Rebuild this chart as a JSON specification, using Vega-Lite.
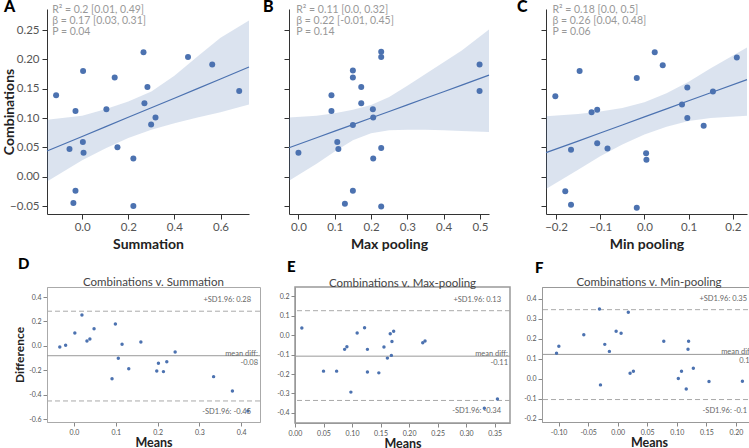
{
"$schema": "https://vega.github.io/schema/vega-lite/v6.json",
"padding": {"left": 2, "top": -2, "right": 0, "bottom": 0},
"config": {
  "font": "Lato",
  "view": {"stroke": null},
  "axis": {"labelFont": "Lato", "titleFont": "Lato", "grid": false, "minExtent": 0, "labelFlush": false, "labelOverlap": false, "domainColor": "#333", "tickColor": "#333", "labelColor": "#555", "labelFontSize": 11.5, "tickSize": 5, "labelPadding": 3, "titleFontSize": 14, "titleFontWeight": "bold", "titleColor": "#222"},
  "axisY": {"minExtent": 0, "labelOverlap": false},
  "axisX": {"minExtent": 0, "labelOverlap": false}
},
"datasets": {
  "pts": [
    {"panel":"A","x":-0.113,"y":0.139},{"panel":"A","x":0.004,"y":0.180},{"panel":"A","x":-0.029,"y":0.112},{"panel":"A","x":0.003,"y":0.059},{"panel":"A","x":-0.055,"y":0.047},{"panel":"A","x":0.006,"y":0.041},{"panel":"A","x":-0.029,"y":-0.024},{"panel":"A","x":-0.038,"y":-0.045},{"panel":"A","x":0.105,"y":0.115},{"panel":"A","x":0.141,"y":0.169},{"panel":"A","x":0.153,"y":0.050},{"panel":"A","x":0.222,"y":0.031},{"panel":"A","x":0.222,"y":-0.050},{"panel":"A","x":0.266,"y":0.212},{"panel":"A","x":0.283,"y":0.153},{"panel":"A","x":0.270,"y":0.125},{"panel":"A","x":0.318,"y":0.101},{"panel":"A","x":0.299,"y":0.089},{"panel":"A","x":0.459,"y":0.204},{"panel":"A","x":0.564,"y":0.191},{"panel":"A","x":0.681,"y":0.146},
    {"panel":"B","x":0.000,"y":0.041},{"panel":"B","x":0.091,"y":0.139},{"panel":"B","x":0.091,"y":0.112},{"panel":"B","x":0.107,"y":0.059},{"panel":"B","x":0.110,"y":0.047},{"panel":"B","x":0.150,"y":0.181},{"panel":"B","x":0.150,"y":0.169},{"panel":"B","x":0.150,"y":0.088},{"panel":"B","x":0.150,"y":-0.024},{"panel":"B","x":0.128,"y":-0.046},{"panel":"B","x":0.173,"y":0.153},{"panel":"B","x":0.173,"y":0.125},{"panel":"B","x":0.205,"y":0.115},{"panel":"B","x":0.206,"y":0.101},{"panel":"B","x":0.206,"y":0.031},{"panel":"B","x":0.228,"y":0.213},{"panel":"B","x":0.228,"y":0.204},{"panel":"B","x":0.228,"y":0.049},{"panel":"B","x":0.228,"y":-0.051},{"panel":"B","x":0.499,"y":0.191},{"panel":"B","x":0.499,"y":0.146},
    {"panel":"C","x":-0.2015,"y":0.137},{"panel":"C","x":-0.1466,"y":0.180},{"panel":"C","x":-0.1195,"y":0.110},{"panel":"C","x":-0.1068,"y":0.114},{"panel":"C","x":-0.166,"y":0.046},{"panel":"C","x":-0.1068,"y":0.057},{"panel":"C","x":-0.0835,"y":0.048},{"panel":"C","x":-0.179,"y":-0.025},{"panel":"C","x":-0.166,"y":-0.048},{"panel":"C","x":-0.0173,"y":-0.053},{"panel":"C","x":-0.0173,"y":0.168},{"panel":"C","x":0.0233,"y":0.212},{"panel":"C","x":0.0414,"y":0.190},{"panel":"C","x":0.0038,"y":0.040},{"panel":"C","x":0.0045,"y":0.029},{"panel":"C","x":0.085,"y":0.123},{"panel":"C","x":0.097,"y":0.152},{"panel":"C","x":0.097,"y":0.100},{"panel":"C","x":0.134,"y":0.087},{"panel":"C","x":0.155,"y":0.145},{"panel":"C","x":0.209,"y":0.203}
  ],
  "bands": [
    {"panel":"A","x":-0.1525,"lo":-0.008,"fit":0.0437,"hi":0.097},{"panel":"A","x":0.0,"lo":0.028,"fit":0.0686,"hi":0.104},{"panel":"A","x":0.1,"lo":0.048,"fit":0.0849,"hi":0.115},{"panel":"A","x":0.2,"lo":0.066,"fit":0.1012,"hi":0.128},{"panel":"A","x":0.3,"lo":0.080,"fit":0.1175,"hi":0.145},{"panel":"A","x":0.4,"lo":0.091,"fit":0.1338,"hi":0.172},{"panel":"A","x":0.5,"lo":0.101,"fit":0.1501,"hi":0.205},{"panel":"A","x":0.6,"lo":0.110,"fit":0.1664,"hi":0.237},{"panel":"A","x":0.7235,"lo":0.123,"fit":0.187,"hi":0.266},
    {"panel":"B","x":-0.026,"lo":-0.007,"fit":0.0494,"hi":0.101},{"panel":"B","x":0.05,"lo":0.022,"fit":0.0664,"hi":0.104},{"panel":"B","x":0.1,"lo":0.043,"fit":0.0776,"hi":0.108},{"panel":"B","x":0.15,"lo":0.062,"fit":0.0888,"hi":0.114},{"panel":"B","x":0.2,"lo":0.074,"fit":0.100,"hi":0.122},{"panel":"B","x":0.25,"lo":0.079,"fit":0.1112,"hi":0.136},{"panel":"B","x":0.3,"lo":0.080,"fit":0.1224,"hi":0.155},{"panel":"B","x":0.35,"lo":0.080,"fit":0.1336,"hi":0.175},{"panel":"B","x":0.4,"lo":0.079,"fit":0.1448,"hi":0.195},{"panel":"B","x":0.45,"lo":0.078,"fit":0.156,"hi":0.215},{"panel":"B","x":0.525,"lo":0.076,"fit":0.173,"hi":0.251},
    {"panel":"C","x":-0.2226,"lo":-0.021,"fit":0.0409,"hi":0.103},{"panel":"C","x":-0.15,"lo":0.012,"fit":0.0606,"hi":0.107},{"panel":"C","x":-0.1,"lo":0.035,"fit":0.0744,"hi":0.111},{"panel":"C","x":-0.05,"lo":0.055,"fit":0.0881,"hi":0.117},{"panel":"C","x":0.0,"lo":0.072,"fit":0.1019,"hi":0.127},{"panel":"C","x":0.05,"lo":0.085,"fit":0.1156,"hi":0.142},{"panel":"C","x":0.1,"lo":0.095,"fit":0.1294,"hi":0.162},{"panel":"C","x":0.15,"lo":0.100,"fit":0.1431,"hi":0.185},{"panel":"C","x":0.232,"lo":0.104,"fit":0.1654,"hi":0.220}
  ],
  "stats": [
    {"panel":"A","letter":"A","text":"R² = 0.2 [0.01, 0.49]\nβ = 0.17 [0.03, 0.31]\nP = 0.04"},
    {"panel":"B","letter":"B","text":"R² = 0.11 [0.0, 0.32]\nβ = 0.22 [-0.01, 0.45]\nP = 0.14"},
    {"panel":"C","letter":"C","text":"R² = 0.18 [0.0, 0.5]\nβ = 0.26 [0.04, 0.48]\nP = 0.06"}
  ],
  "heads": [
    {"panel":"D","letter":"D","title":"Combinations v. Summation"},
    {"panel":"E","letter":"E","title":"Combinations v. Max-pooling"},
    {"panel":"F","letter":"F","title":"Combinations v. Min-pooling"}
  ],
  "ba": [
    {"panel":"D","mean":-0.034,"diff":-0.009},{"panel":"D","mean":-0.020,"diff":0.005},{"panel":"D","mean":0.002,"diff":0.106},{"panel":"D","mean":0.019,"diff":0.253},{"panel":"D","mean":0.031,"diff":0.040},{"panel":"D","mean":0.038,"diff":0.057},{"panel":"D","mean":0.048,"diff":0.141},{"panel":"D","mean":0.091,"diff":-0.268},{"panel":"D","mean":0.099,"diff":0.179},{"panel":"D","mean":0.106,"diff":-0.101},{"panel":"D","mean":0.115,"diff":0.013},{"panel":"D","mean":0.131,"diff":-0.186},{"panel":"D","mean":0.160,"diff":0.032},{"panel":"D","mean":0.198,"diff":-0.205},{"panel":"D","mean":0.202,"diff":-0.142},{"panel":"D","mean":0.214,"diff":-0.210},{"panel":"D","mean":0.222,"diff":-0.129},{"panel":"D","mean":0.242,"diff":-0.050},{"panel":"D","mean":0.334,"diff":-0.251},{"panel":"D","mean":0.379,"diff":-0.368},{"panel":"D","mean":0.416,"diff":-0.532},
    {"panel":"E","mean":0.012,"diff":0.037},{"panel":"E","mean":0.050,"diff":-0.185},{"panel":"E","mean":0.073,"diff":-0.185},{"panel":"E","mean":0.087,"diff":-0.073},{"panel":"E","mean":0.091,"diff":-0.060},{"panel":"E","mean":0.098,"diff":-0.293},{"panel":"E","mean":0.109,"diff":0.011},{"panel":"E","mean":0.122,"diff":0.038},{"panel":"E","mean":0.127,"diff":-0.073},{"panel":"E","mean":0.127,"diff":-0.189},{"panel":"E","mean":0.147,"diff":-0.194},{"panel":"E","mean":0.156,"diff":-0.061},{"panel":"E","mean":0.162,"diff":-0.118},{"panel":"E","mean":0.167,"diff":0.007},{"panel":"E","mean":0.169,"diff":-0.104},{"panel":"E","mean":0.170,"diff":-0.032},{"panel":"E","mean":0.173,"diff":0.020},{"panel":"E","mean":0.224,"diff":-0.039},{"panel":"E","mean":0.228,"diff":-0.030},{"panel":"E","mean":0.332,"diff":-0.376},{"panel":"E","mean":0.355,"diff":-0.329},
    {"panel":"F","mean":-0.1034,"diff":0.128},{"panel":"F","mean":-0.0995,"diff":0.163},{"panel":"F","mean":-0.0573,"diff":0.220},{"panel":"F","mean":-0.0308,"diff":0.348},{"panel":"F","mean":-0.0291,"diff":-0.030},{"panel":"F","mean":-0.0218,"diff":0.172},{"panel":"F","mean":-0.014,"diff":0.137},{"panel":"F","mean":-0.0026,"diff":0.237},{"panel":"F","mean":0.0058,"diff":0.227},{"panel":"F","mean":0.018,"diff":0.332},{"panel":"F","mean":0.021,"diff":0.028},{"panel":"F","mean":0.0266,"diff":0.038},{"panel":"F","mean":0.078,"diff":0.188},{"panel":"F","mean":0.1026,"diff":0.002},{"panel":"F","mean":0.108,"diff":0.038},{"panel":"F","mean":0.116,"diff":-0.050},{"panel":"F","mean":0.119,"diff":0.148},{"panel":"F","mean":0.120,"diff":0.188},{"panel":"F","mean":0.128,"diff":0.053},{"panel":"F","mean":0.1545,"diff":-0.013},{"panel":"F","mean":0.211,"diff":-0.012}
  ],
  "lines": [
    {"panel":"D","kind":"upper","diff":0.284,"label":"+SD1.96: 0.28"},{"panel":"D","kind":"mean","diff":-0.08,"label":"mean diff:\n-0.08"},{"panel":"D","kind":"lower","diff":-0.45,"label":"-SD1.96: -0.45"},
    {"panel":"E","kind":"upper","diff":0.126,"label":"+SD1.96: 0.13"},{"panel":"E","kind":"mean","diff":-0.108,"label":"mean diff:\n-0.11"},{"panel":"E","kind":"lower","diff":-0.336,"label":"-SD1.96: -0.34"},
    {"panel":"F","kind":"upper","diff":0.345,"label":"+SD1.96: 0.35"},{"panel":"F","kind":"mean","diff":0.122,"label":"mean diff:\n0.12"},{"panel":"F","kind":"lower","diff":-0.103,"label":"-SD1.96: -0.1"}
  ]
},
"columns": 1, "align": "none", "spacing": 4,
"concat": [
 {"columns": 2, "align": "none", "spacing": 25, "concat": [
  {"columns": 2, "align": "none", "spacing": 11, "concat": [
   {
    "width": 202, "height": 205,
    "layer": [
     {"data": {"name": "bands"}, "transform": [{"filter": "datum.panel==='A'"}], "mark": {"type": "area", "color": "#4c72b0", "opacity": 0.2},
      "encoding": {"x": {"field": "x", "type": "quantitative", "title": "Summation", "scale": {"domain": [-0.1525, 0.7235], "nice": false, "zero": false}, "axis": {"values": [0, 0.2, 0.4, 0.6], "labelExpr": "format(datum.value, '.1f')", "labelPadding": 2, "titlePadding": 5, "labelOverlap": false, "minExtent": 0}},
       "y": {"field": "lo", "type": "quantitative", "title": "Combinations", "scale": {"domain": [-0.0636, 0.2858], "nice": false, "zero": false}, "axis": {"values": [-0.05, 0, 0.05, 0.1, 0.15, 0.2, 0.25], "labelExpr": "format(datum.value, '.2f')", "titlePadding": -7, "labelOverlap": false, "minExtent": 0}}, "y2": {"field": "hi"}}},
     {"data": {"name": "bands"}, "transform": [{"filter": "datum.panel==='A'"}], "mark": {"type": "line", "color": "#4c72b0", "strokeWidth": 1.2},
      "encoding": {"x": {"field": "x", "type": "quantitative", "title": "Summation", "scale": {"domain": [-0.1525, 0.7235], "nice": false, "zero": false}, "axis": {"values": [0, 0.2, 0.4, 0.6], "labelExpr": "format(datum.value, '.1f')", "labelPadding": 2, "titlePadding": 5, "labelOverlap": false, "minExtent": 0}},
       "y": {"field": "fit", "type": "quantitative", "title": "Combinations", "scale": {"domain": [-0.0636, 0.2858], "nice": false, "zero": false}, "axis": {"values": [-0.05, 0, 0.05, 0.1, 0.15, 0.2, 0.25], "labelExpr": "format(datum.value, '.2f')", "titlePadding": -7, "labelOverlap": false, "minExtent": 0}}}},
     {"data": {"name": "pts"}, "transform": [{"filter": "datum.panel==='A'"}], "mark": {"type": "circle", "color": "#4c72b0", "opacity": 1, "size": 36},
      "encoding": {"x": {"field": "x", "type": "quantitative", "title": "Summation", "scale": {"domain": [-0.1525, 0.7235], "nice": false, "zero": false}, "axis": {"values": [0, 0.2, 0.4, 0.6], "labelExpr": "format(datum.value, '.1f')", "labelPadding": 2, "titlePadding": 5, "labelOverlap": false, "minExtent": 0}},
       "y": {"field": "y", "type": "quantitative", "title": "Combinations", "scale": {"domain": [-0.0636, 0.2858], "nice": false, "zero": false}, "axis": {"values": [-0.05, 0, 0.05, 0.1, 0.15, 0.2, 0.25], "labelExpr": "format(datum.value, '.2f')", "titlePadding": -7, "labelOverlap": false, "minExtent": 0}}}},
     {"data": {"name": "stats"}, "transform": [{"filter": "datum.panel==='A'"}], "mark": {"type": "text", "align": "left", "baseline": "top", "fontSize": 10.5, "color": "#999", "lineBreak": "\n", "lineHeight": 11},
      "encoding": {"x": {"datum": -0.13, "type": "quantitative", "title": "Summation", "axis": {"values": [0, 0.2, 0.4, 0.6], "labelExpr": "format(datum.value, '.1f')", "labelPadding": 2, "titlePadding": 5, "labelOverlap": false, "minExtent": 0}},
       "y": {"datum": 0.2934, "type": "quantitative", "title": "Combinations", "axis": {"values": [-0.05, 0, 0.05, 0.1, 0.15, 0.2, 0.25], "labelExpr": "format(datum.value, '.2f')", "titlePadding": -7, "labelOverlap": false, "minExtent": 0}}, "text": {"field": "text"}}},
     {"data": {"name": "stats"}, "transform": [{"filter": "datum.panel==='A'"}], "mark": {"type": "text", "align": "left", "baseline": "alphabetic", "fontSize": 16, "fontWeight": 900, "color": "#000"},
      "encoding": {"x": {"datum": -0.339, "type": "quantitative", "title": "Summation", "axis": {"values": [0, 0.2, 0.4, 0.6], "labelExpr": "format(datum.value, '.1f')", "labelPadding": 2, "titlePadding": 5, "labelOverlap": false, "minExtent": 0}},
       "y": {"datum": 0.2807, "type": "quantitative", "title": "Combinations", "axis": {"values": [-0.05, 0, 0.05, 0.1, 0.15, 0.2, 0.25], "labelExpr": "format(datum.value, '.2f')", "titlePadding": -7, "labelOverlap": false, "minExtent": 0}}, "text": {"field": "letter"}}}
    ]
   },
   {
    "width": 200, "height": 205,
    "layer": [
     {"data": {"name": "bands"}, "transform": [{"filter": "datum.panel==='B'"}], "mark": {"type": "area", "color": "#4c72b0", "opacity": 0.2},
      "encoding": {"x": {"field": "x", "type": "quantitative", "title": "Max pooling", "scale": {"domain": [-0.026, 0.525], "nice": false, "zero": false}, "axis": {"values": [0, 0.1, 0.2, 0.3, 0.4, 0.5], "labelExpr": "format(datum.value, '.1f')", "labelPadding": 2, "titlePadding": 5, "labelOverlap": false, "minExtent": 0}},
       "y": {"field": "lo", "type": "quantitative", "title": null, "scale": {"domain": [-0.0636, 0.2858], "nice": false, "zero": false}, "axis": {"values": [-0.05, 0, 0.05, 0.1, 0.15, 0.2, 0.25], "labels": false, "labelOverlap": false, "minExtent": 0}}, "y2": {"field": "hi"}}},
     {"data": {"name": "bands"}, "transform": [{"filter": "datum.panel==='B'"}], "mark": {"type": "line", "color": "#4c72b0", "strokeWidth": 1.2},
      "encoding": {"x": {"field": "x", "type": "quantitative", "title": "Max pooling", "scale": {"domain": [-0.026, 0.525], "nice": false, "zero": false}, "axis": {"values": [0, 0.1, 0.2, 0.3, 0.4, 0.5], "labelExpr": "format(datum.value, '.1f')", "labelPadding": 2, "titlePadding": 5, "labelOverlap": false, "minExtent": 0}},
       "y": {"field": "fit", "type": "quantitative", "title": null, "scale": {"domain": [-0.0636, 0.2858], "nice": false, "zero": false}, "axis": {"values": [-0.05, 0, 0.05, 0.1, 0.15, 0.2, 0.25], "labels": false, "labelOverlap": false, "minExtent": 0}}}},
     {"data": {"name": "pts"}, "transform": [{"filter": "datum.panel==='B'"}], "mark": {"type": "circle", "color": "#4c72b0", "opacity": 1, "size": 36},
      "encoding": {"x": {"field": "x", "type": "quantitative", "title": "Max pooling", "scale": {"domain": [-0.026, 0.525], "nice": false, "zero": false}, "axis": {"values": [0, 0.1, 0.2, 0.3, 0.4, 0.5], "labelExpr": "format(datum.value, '.1f')", "labelPadding": 2, "titlePadding": 5, "labelOverlap": false, "minExtent": 0}},
       "y": {"field": "y", "type": "quantitative", "title": null, "scale": {"domain": [-0.0636, 0.2858], "nice": false, "zero": false}, "axis": {"values": [-0.05, 0, 0.05, 0.1, 0.15, 0.2, 0.25], "labels": false, "labelOverlap": false, "minExtent": 0}}}},
     {"data": {"name": "stats"}, "transform": [{"filter": "datum.panel==='B'"}], "mark": {"type": "text", "align": "left", "baseline": "top", "fontSize": 10.5, "color": "#999", "lineBreak": "\n", "lineHeight": 11},
      "encoding": {"x": {"datum": -0.006, "type": "quantitative", "title": "Max pooling", "axis": {"values": [0, 0.1, 0.2, 0.3, 0.4, 0.5], "labelExpr": "format(datum.value, '.1f')", "labelPadding": 2, "titlePadding": 5, "labelOverlap": false, "minExtent": 0}},
       "y": {"datum": 0.2934, "type": "quantitative", "title": null, "axis": {"values": [-0.05, 0, 0.05, 0.1, 0.15, 0.2, 0.25], "labels": false, "labelOverlap": false, "minExtent": 0}}, "text": {"field": "text"}}},
     {"data": {"name": "stats"}, "transform": [{"filter": "datum.panel==='B'"}], "mark": {"type": "text", "align": "left", "baseline": "alphabetic", "fontSize": 16, "fontWeight": 900, "color": "#000"},
      "encoding": {"x": {"datum": -0.0976, "type": "quantitative", "title": "Max pooling", "axis": {"values": [0, 0.1, 0.2, 0.3, 0.4, 0.5], "labelExpr": "format(datum.value, '.1f')", "labelPadding": 2, "titlePadding": 5, "labelOverlap": false, "minExtent": 0}},
       "y": {"datum": 0.2807, "type": "quantitative", "title": null, "axis": {"values": [-0.05, 0, 0.05, 0.1, 0.15, 0.2, 0.25], "labels": false, "labelOverlap": false, "minExtent": 0}}, "text": {"field": "letter"}}}
    ]
   }
  ]},
  {
   "width": 201, "height": 205,
   "layer": [
    {"data": {"name": "bands"}, "transform": [{"filter": "datum.panel==='C'"}], "mark": {"type": "area", "color": "#4c72b0", "opacity": 0.2},
     "encoding": {"x": {"field": "x", "type": "quantitative", "title": "Min pooling", "scale": {"domain": [-0.2226, 0.232], "nice": false, "zero": false}, "axis": {"values": [-0.2, -0.1, 0, 0.1, 0.2], "labelExpr": "format(datum.value, '.1f')", "labelPadding": 2, "titlePadding": 5, "labelOverlap": false, "minExtent": 0}},
      "y": {"field": "lo", "type": "quantitative", "title": null, "scale": {"domain": [-0.0636, 0.2858], "nice": false, "zero": false}, "axis": {"values": [-0.05, 0, 0.05, 0.1, 0.15, 0.2, 0.25], "labels": false, "labelOverlap": false, "minExtent": 0}}, "y2": {"field": "hi"}}},
    {"data": {"name": "bands"}, "transform": [{"filter": "datum.panel==='C'"}], "mark": {"type": "line", "color": "#4c72b0", "strokeWidth": 1.2},
     "encoding": {"x": {"field": "x", "type": "quantitative", "title": "Min pooling", "scale": {"domain": [-0.2226, 0.232], "nice": false, "zero": false}, "axis": {"values": [-0.2, -0.1, 0, 0.1, 0.2], "labelExpr": "format(datum.value, '.1f')", "labelPadding": 2, "titlePadding": 5, "labelOverlap": false, "minExtent": 0}},
      "y": {"field": "fit", "type": "quantitative", "title": null, "scale": {"domain": [-0.0636, 0.2858], "nice": false, "zero": false}, "axis": {"values": [-0.05, 0, 0.05, 0.1, 0.15, 0.2, 0.25], "labels": false, "labelOverlap": false, "minExtent": 0}}}},
    {"data": {"name": "pts"}, "transform": [{"filter": "datum.panel==='C'"}], "mark": {"type": "circle", "color": "#4c72b0", "opacity": 1, "size": 36},
     "encoding": {"x": {"field": "x", "type": "quantitative", "title": "Min pooling", "scale": {"domain": [-0.2226, 0.232], "nice": false, "zero": false}, "axis": {"values": [-0.2, -0.1, 0, 0.1, 0.2], "labelExpr": "format(datum.value, '.1f')", "labelPadding": 2, "titlePadding": 5, "labelOverlap": false, "minExtent": 0}},
      "y": {"field": "y", "type": "quantitative", "title": null, "scale": {"domain": [-0.0636, 0.2858], "nice": false, "zero": false}, "axis": {"values": [-0.05, 0, 0.05, 0.1, 0.15, 0.2, 0.25], "labels": false, "labelOverlap": false, "minExtent": 0}}}},
    {"data": {"name": "stats"}, "transform": [{"filter": "datum.panel==='C'"}], "mark": {"type": "text", "align": "left", "baseline": "top", "fontSize": 10.5, "color": "#999", "lineBreak": "\n", "lineHeight": 11},
     "encoding": {"x": {"datum": -0.208, "type": "quantitative", "title": "Min pooling", "axis": {"values": [-0.2, -0.1, 0, 0.1, 0.2], "labelExpr": "format(datum.value, '.1f')", "labelPadding": 2, "titlePadding": 5, "labelOverlap": false, "minExtent": 0}},
      "y": {"datum": 0.2934, "type": "quantitative", "title": null, "axis": {"values": [-0.05, 0, 0.05, 0.1, 0.15, 0.2, 0.25], "labels": false, "labelOverlap": false, "minExtent": 0}}, "text": {"field": "text"}}},
    {"data": {"name": "stats"}, "transform": [{"filter": "datum.panel==='C'"}], "mark": {"type": "text", "align": "left", "baseline": "alphabetic", "fontSize": 16, "fontWeight": 900, "color": "#000"},
     "encoding": {"x": {"datum": -0.288, "type": "quantitative", "title": "Min pooling", "axis": {"values": [-0.2, -0.1, 0, 0.1, 0.2], "labelExpr": "format(datum.value, '.1f')", "labelPadding": 2, "titlePadding": 5, "labelOverlap": false, "minExtent": 0}},
      "y": {"datum": 0.2807, "type": "quantitative", "title": null, "axis": {"values": [-0.05, 0, 0.05, 0.1, 0.15, 0.2, 0.25], "labels": false, "labelOverlap": false, "minExtent": 0}}, "text": {"field": "letter"}}}
   ]
  }
 ]},
 {"columns": 2, "align": "none", "spacing": 11, "concat": [
  {"columns": 2, "align": "none", "spacing": 14, "concat": [
   {
    "width": 213, "height": 135,
    "view": {"stroke": "#aaa"},
    "layer": [
     {"data": {"name": "lines"}, "transform": [{"filter": "datum.panel==='D' && datum.kind!=='mean'"}], "mark": {"type": "rule", "color": "#aaa", "strokeDash": [5, 3], "strokeWidth": 1},
      "encoding": {"y": {"field": "diff", "type": "quantitative", "title": "Difference", "scale": {"domain": [-0.622, 0.482], "nice": false, "zero": false}, "axis": {"values": [-0.6, -0.4, -0.2, 0, 0.2, 0.4], "labelExpr": "replace(format(datum.value, '.1f'), '−', '-')", "labelFontSize": 7, "tickSize": 4, "tickColor": "#888", "domainColor": "#aaa", "labelPadding": 2, "titleFontSize": 12, "titlePadding": 2, "labelOverlap": false, "minExtent": 0}}}},
     {"data": {"name": "lines"}, "transform": [{"filter": "datum.panel==='D' && datum.kind==='mean'"}], "mark": {"type": "rule", "color": "#999", "strokeWidth": 1},
      "encoding": {"y": {"field": "diff", "type": "quantitative", "title": "Difference", "scale": {"domain": [-0.622, 0.482], "nice": false, "zero": false}, "axis": {"values": [-0.6, -0.4, -0.2, 0, 0.2, 0.4], "labelExpr": "replace(format(datum.value, '.1f'), '−', '-')", "labelFontSize": 7, "tickSize": 4, "tickColor": "#888", "domainColor": "#aaa", "labelPadding": 2, "titleFontSize": 12, "titlePadding": 2, "labelOverlap": false, "minExtent": 0}}}},
     {"data": {"name": "ba"}, "transform": [{"filter": "datum.panel==='D'"}], "mark": {"type": "circle", "color": "#4c72b0", "opacity": 1, "size": 12},
      "encoding": {"x": {"field": "mean", "type": "quantitative", "title": "Means", "scale": {"domain": [-0.0646, 0.445], "nice": false, "zero": false}, "axis": {"values": [0, 0.1, 0.2, 0.3, 0.4], "labelExpr": "replace(format(datum.value, '.1f'), '−', '-')", "labelFontSize": 7, "tickSize": 4, "tickColor": "#888", "domainColor": "#aaa", "labelPadding": 2, "titleFontSize": 12.5, "titlePadding": 1, "labelOverlap": false, "minExtent": 0}},
       "y": {"field": "diff", "type": "quantitative", "title": "Difference", "scale": {"domain": [-0.622, 0.482], "nice": false, "zero": false}, "axis": {"values": [-0.6, -0.4, -0.2, 0, 0.2, 0.4], "labelExpr": "replace(format(datum.value, '.1f'), '−', '-')", "labelFontSize": 7, "tickSize": 4, "tickColor": "#888", "domainColor": "#aaa", "labelPadding": 2, "titleFontSize": 12, "titlePadding": 2, "labelOverlap": false, "minExtent": 0}}}},
     {"data": {"name": "lines"}, "transform": [{"filter": "datum.panel==='D' && datum.kind==='upper'"}], "mark": {"type": "text", "align": "right", "fontSize": 7.5, "color": "#666", "dx": -9, "dy": -11},
      "encoding": {"x": {"datum": 0.445, "type": "quantitative", "title": "Means", "axis": {"values": [0, 0.1, 0.2, 0.3, 0.4], "labelExpr": "replace(format(datum.value, '.1f'), '−', '-')", "labelFontSize": 7, "tickSize": 4, "tickColor": "#888", "domainColor": "#aaa", "labelPadding": 2, "titleFontSize": 12.5, "titlePadding": 1, "labelOverlap": false, "minExtent": 0}},
       "y": {"field": "diff", "type": "quantitative", "title": "Difference", "axis": {"values": [-0.6, -0.4, -0.2, 0, 0.2, 0.4], "labelExpr": "replace(format(datum.value, '.1f'), '−', '-')", "labelFontSize": 7, "tickSize": 4, "tickColor": "#888", "domainColor": "#aaa", "labelPadding": 2, "titleFontSize": 12, "titlePadding": 2, "labelOverlap": false, "minExtent": 0}}, "text": {"field": "label"}}},
     {"data": {"name": "lines"}, "transform": [{"filter": "datum.panel==='D' && datum.kind==='lower'"}], "mark": {"type": "text", "align": "right", "fontSize": 7.5, "color": "#666", "dx": -9, "dy": 11},
      "encoding": {"x": {"datum": 0.445, "type": "quantitative", "title": "Means", "axis": {"values": [0, 0.1, 0.2, 0.3, 0.4], "labelExpr": "replace(format(datum.value, '.1f'), '−', '-')", "labelFontSize": 7, "tickSize": 4, "tickColor": "#888", "domainColor": "#aaa", "labelPadding": 2, "titleFontSize": 12.5, "titlePadding": 1, "labelOverlap": false, "minExtent": 0}},
       "y": {"field": "diff", "type": "quantitative", "title": "Difference", "axis": {"values": [-0.6, -0.4, -0.2, 0, 0.2, 0.4], "labelExpr": "replace(format(datum.value, '.1f'), '−', '-')", "labelFontSize": 7, "tickSize": 4, "tickColor": "#888", "domainColor": "#aaa", "labelPadding": 2, "titleFontSize": 12, "titlePadding": 2, "labelOverlap": false, "minExtent": 0}}, "text": {"field": "label"}}},
     {"data": {"name": "lines"}, "transform": [{"filter": "datum.panel==='D' && datum.kind==='mean'"}], "mark": {"type": "text", "align": "right", "fontSize": 7.5, "color": "#666", "dx": -2, "dy": -2, "lineBreak": "\n", "lineHeight": 9},
      "encoding": {"x": {"datum": 0.445, "type": "quantitative", "title": "Means", "axis": {"values": [0, 0.1, 0.2, 0.3, 0.4], "labelExpr": "replace(format(datum.value, '.1f'), '−', '-')", "labelFontSize": 7, "tickSize": 4, "tickColor": "#888", "domainColor": "#aaa", "labelPadding": 2, "titleFontSize": 12.5, "titlePadding": 1, "labelOverlap": false, "minExtent": 0}},
       "y": {"field": "diff", "type": "quantitative", "title": "Difference", "axis": {"values": [-0.6, -0.4, -0.2, 0, 0.2, 0.4], "labelExpr": "replace(format(datum.value, '.1f'), '−', '-')", "labelFontSize": 7, "tickSize": 4, "tickColor": "#888", "domainColor": "#aaa", "labelPadding": 2, "titleFontSize": 12, "titlePadding": 2, "labelOverlap": false, "minExtent": 0}}, "text": {"field": "label"}}},
     {"data": {"name": "heads"}, "transform": [{"filter": "datum.panel==='D'"}], "mark": {"type": "text", "align": "left", "baseline": "alphabetic", "fontSize": 15, "fontWeight": 900, "color": "#000"},
      "encoding": {"x": {"datum": -0.134, "type": "quantitative", "title": "Means", "axis": {"values": [0, 0.1, 0.2, 0.3, 0.4], "labelExpr": "replace(format(datum.value, '.1f'), '−', '-')", "labelFontSize": 7, "tickSize": 4, "tickColor": "#888", "domainColor": "#aaa", "labelPadding": 2, "titleFontSize": 12.5, "titlePadding": 1, "labelOverlap": false, "minExtent": 0}},
       "y": {"datum": 0.629, "type": "quantitative", "title": "Difference", "axis": {"values": [-0.6, -0.4, -0.2, 0, 0.2, 0.4], "labelExpr": "replace(format(datum.value, '.1f'), '−', '-')", "labelFontSize": 7, "tickSize": 4, "tickColor": "#888", "domainColor": "#aaa", "labelPadding": 2, "titleFontSize": 12, "titlePadding": 2, "labelOverlap": false, "minExtent": 0}}, "text": {"field": "letter"}}},
     {"data": {"name": "heads"}, "transform": [{"filter": "datum.panel==='D'"}], "mark": {"type": "text", "align": "center", "baseline": "alphabetic", "fontSize": 11.5, "color": "#444"},
      "encoding": {"x": {"datum": 0.190, "type": "quantitative", "title": "Means", "axis": {"values": [0, 0.1, 0.2, 0.3, 0.4], "labelExpr": "replace(format(datum.value, '.1f'), '−', '-')", "labelFontSize": 7, "tickSize": 4, "tickColor": "#888", "domainColor": "#aaa", "labelPadding": 2, "titleFontSize": 12.5, "titlePadding": 1, "labelOverlap": false, "minExtent": 0}},
       "y": {"datum": 0.490, "type": "quantitative", "title": "Difference", "axis": {"values": [-0.6, -0.4, -0.2, 0, 0.2, 0.4], "labelExpr": "replace(format(datum.value, '.1f'), '−', '-')", "labelFontSize": 7, "tickSize": 4, "tickColor": "#888", "domainColor": "#aaa", "labelPadding": 2, "titleFontSize": 12, "titlePadding": 2, "labelOverlap": false, "minExtent": 0}}, "text": {"field": "title"}}}
    ]
   },
   {
    "width": 215, "height": 136,
    "view": {"stroke": "#999", "strokeWidth": 1.5},
    "layer": [
     {"data": {"name": "lines"}, "transform": [{"filter": "datum.panel==='E' && datum.kind!=='mean'"}], "mark": {"type": "rule", "color": "#aaa", "strokeDash": [5, 3], "strokeWidth": 1},
      "encoding": {"y": {"field": "diff", "type": "quantitative", "title": null, "scale": {"domain": [-0.452, 0.248], "nice": false, "zero": false}, "axis": {"values": [-0.4, -0.3, -0.2, -0.1, 0, 0.1, 0.2], "labelExpr": "replace(format(datum.value, '.1f'), '−', '-')", "labelFontSize": 7, "tickSize": 4, "tickColor": "#888", "domainColor": "#999", "labelPadding": 2, "labelOverlap": false, "minExtent": 0}}}},
     {"data": {"name": "lines"}, "transform": [{"filter": "datum.panel==='E' && datum.kind==='mean'"}], "mark": {"type": "rule", "color": "#999", "strokeWidth": 1},
      "encoding": {"y": {"field": "diff", "type": "quantitative", "title": null, "scale": {"domain": [-0.452, 0.248], "nice": false, "zero": false}, "axis": {"values": [-0.4, -0.3, -0.2, -0.1, 0, 0.1, 0.2], "labelExpr": "replace(format(datum.value, '.1f'), '−', '-')", "labelFontSize": 7, "tickSize": 4, "tickColor": "#888", "domainColor": "#999", "labelPadding": 2, "labelOverlap": false, "minExtent": 0}}}},
     {"data": {"name": "ba"}, "transform": [{"filter": "datum.panel==='E'"}], "mark": {"type": "circle", "color": "#4c72b0", "opacity": 1, "size": 12},
      "encoding": {"x": {"field": "mean", "type": "quantitative", "title": "Means", "scale": {"domain": [0, 0.377], "nice": false, "zero": false}, "axis": {"values": [0, 0.05, 0.1, 0.15, 0.2, 0.25, 0.3, 0.35], "labelExpr": "replace(format(datum.value, '.2f'), '−', '-')", "labelFontSize": 7, "tickSize": 4, "tickColor": "#888", "domainColor": "#999", "labelPadding": 2, "titleFontSize": 12.5, "titlePadding": 1, "labelOverlap": false, "minExtent": 0}},
       "y": {"field": "diff", "type": "quantitative", "title": null, "scale": {"domain": [-0.452, 0.248], "nice": false, "zero": false}, "axis": {"values": [-0.4, -0.3, -0.2, -0.1, 0, 0.1, 0.2], "labelExpr": "replace(format(datum.value, '.1f'), '−', '-')", "labelFontSize": 7, "tickSize": 4, "tickColor": "#888", "domainColor": "#999", "labelPadding": 2, "labelOverlap": false, "minExtent": 0}}}},
     {"data": {"name": "lines"}, "transform": [{"filter": "datum.panel==='E' && datum.kind==='upper'"}], "mark": {"type": "text", "align": "right", "fontSize": 7.5, "color": "#666", "dx": -9, "dy": -11},
      "encoding": {"x": {"datum": 0.377, "type": "quantitative", "title": "Means", "axis": {"values": [0, 0.05, 0.1, 0.15, 0.2, 0.25, 0.3, 0.35], "labelExpr": "replace(format(datum.value, '.2f'), '−', '-')", "labelFontSize": 7, "tickSize": 4, "tickColor": "#888", "domainColor": "#999", "labelPadding": 2, "titleFontSize": 12.5, "titlePadding": 1, "labelOverlap": false, "minExtent": 0}},
       "y": {"field": "diff", "type": "quantitative", "title": null, "axis": {"values": [-0.4, -0.3, -0.2, -0.1, 0, 0.1, 0.2], "labelExpr": "replace(format(datum.value, '.1f'), '−', '-')", "labelFontSize": 7, "tickSize": 4, "tickColor": "#888", "domainColor": "#999", "labelPadding": 2, "labelOverlap": false, "minExtent": 0}}, "text": {"field": "label"}}},
     {"data": {"name": "lines"}, "transform": [{"filter": "datum.panel==='E' && datum.kind==='lower'"}], "mark": {"type": "text", "align": "right", "fontSize": 7.5, "color": "#666", "dx": -9, "dy": 11},
      "encoding": {"x": {"datum": 0.377, "type": "quantitative", "title": "Means", "axis": {"values": [0, 0.05, 0.1, 0.15, 0.2, 0.25, 0.3, 0.35], "labelExpr": "replace(format(datum.value, '.2f'), '−', '-')", "labelFontSize": 7, "tickSize": 4, "tickColor": "#888", "domainColor": "#999", "labelPadding": 2, "titleFontSize": 12.5, "titlePadding": 1, "labelOverlap": false, "minExtent": 0}},
       "y": {"field": "diff", "type": "quantitative", "title": null, "axis": {"values": [-0.4, -0.3, -0.2, -0.1, 0, 0.1, 0.2], "labelExpr": "replace(format(datum.value, '.1f'), '−', '-')", "labelFontSize": 7, "tickSize": 4, "tickColor": "#888", "domainColor": "#999", "labelPadding": 2, "labelOverlap": false, "minExtent": 0}}, "text": {"field": "label"}}},
     {"data": {"name": "lines"}, "transform": [{"filter": "datum.panel==='E' && datum.kind==='mean'"}], "mark": {"type": "text", "align": "right", "fontSize": 7.5, "color": "#666", "dx": -2, "dy": -2, "lineBreak": "\n", "lineHeight": 9},
      "encoding": {"x": {"datum": 0.377, "type": "quantitative", "title": "Means", "axis": {"values": [0, 0.05, 0.1, 0.15, 0.2, 0.25, 0.3, 0.35], "labelExpr": "replace(format(datum.value, '.2f'), '−', '-')", "labelFontSize": 7, "tickSize": 4, "tickColor": "#888", "domainColor": "#999", "labelPadding": 2, "titleFontSize": 12.5, "titlePadding": 1, "labelOverlap": false, "minExtent": 0}},
       "y": {"field": "diff", "type": "quantitative", "title": null, "axis": {"values": [-0.4, -0.3, -0.2, -0.1, 0, 0.1, 0.2], "labelExpr": "replace(format(datum.value, '.1f'), '−', '-')", "labelFontSize": 7, "tickSize": 4, "tickColor": "#888", "domainColor": "#999", "labelPadding": 2, "labelOverlap": false, "minExtent": 0}}, "text": {"field": "label"}}},
     {"data": {"name": "heads"}, "transform": [{"filter": "datum.panel==='E'"}], "mark": {"type": "text", "align": "left", "baseline": "alphabetic", "fontSize": 15, "fontWeight": 900, "color": "#000"},
      "encoding": {"x": {"datum": -0.014, "type": "quantitative", "title": "Means", "axis": {"values": [0, 0.05, 0.1, 0.15, 0.2, 0.25, 0.3, 0.35], "labelExpr": "replace(format(datum.value, '.2f'), '−', '-')", "labelFontSize": 7, "tickSize": 4, "tickColor": "#888", "domainColor": "#999", "labelPadding": 2, "titleFontSize": 12.5, "titlePadding": 1, "labelOverlap": false, "minExtent": 0}},
       "y": {"datum": 0.325, "type": "quantitative", "title": null, "axis": {"values": [-0.4, -0.3, -0.2, -0.1, 0, 0.1, 0.2], "labelExpr": "replace(format(datum.value, '.1f'), '−', '-')", "labelFontSize": 7, "tickSize": 4, "tickColor": "#888", "domainColor": "#999", "labelPadding": 2, "labelOverlap": false, "minExtent": 0}}, "text": {"field": "letter"}}},
     {"data": {"name": "heads"}, "transform": [{"filter": "datum.panel==='E'"}], "mark": {"type": "text", "align": "center", "baseline": "alphabetic", "fontSize": 11.5, "color": "#444"},
      "encoding": {"x": {"datum": 0.1885, "type": "quantitative", "title": "Means", "axis": {"values": [0, 0.05, 0.1, 0.15, 0.2, 0.25, 0.3, 0.35], "labelExpr": "replace(format(datum.value, '.2f'), '−', '-')", "labelFontSize": 7, "tickSize": 4, "tickColor": "#888", "domainColor": "#999", "labelPadding": 2, "titleFontSize": 12.5, "titlePadding": 1, "labelOverlap": false, "minExtent": 0}},
       "y": {"datum": 0.2505, "type": "quantitative", "title": null, "axis": {"values": [-0.4, -0.3, -0.2, -0.1, 0, 0.1, 0.2], "labelExpr": "replace(format(datum.value, '.1f'), '−', '-')", "labelFontSize": 7, "tickSize": 4, "tickColor": "#888", "domainColor": "#999", "labelPadding": 2, "labelOverlap": false, "minExtent": 0}}, "text": {"field": "title"}}}
    ]
   }
  ]},
  {
   "width": 214, "height": 135,
   "view": {"stroke": "#999"},
   "layer": [
    {"data": {"name": "lines"}, "transform": [{"filter": "datum.panel==='F' && datum.kind!=='mean'"}], "mark": {"type": "rule", "color": "#aaa", "strokeDash": [5, 3], "strokeWidth": 1},
     "encoding": {"y": {"field": "diff", "type": "quantitative", "title": null, "scale": {"domain": [-0.215, 0.458], "nice": false, "zero": false}, "axis": {"values": [-0.2, -0.1, 0, 0.1, 0.2, 0.3, 0.4], "labelExpr": "replace(format(datum.value, '.1f'), '−', '-')", "labelFontSize": 7, "tickSize": 4, "tickColor": "#888", "domainColor": "#999", "labelPadding": 2, "labelOverlap": false, "minExtent": 0}}}},
    {"data": {"name": "lines"}, "transform": [{"filter": "datum.panel==='F' && datum.kind==='mean'"}], "mark": {"type": "rule", "color": "#999", "strokeWidth": 1},
     "encoding": {"y": {"field": "diff", "type": "quantitative", "title": null, "scale": {"domain": [-0.215, 0.458], "nice": false, "zero": false}, "axis": {"values": [-0.2, -0.1, 0, 0.1, 0.2, 0.3, 0.4], "labelExpr": "replace(format(datum.value, '.1f'), '−', '-')", "labelFontSize": 7, "tickSize": 4, "tickColor": "#888", "domainColor": "#999", "labelPadding": 2, "labelOverlap": false, "minExtent": 0}}}},
    {"data": {"name": "ba"}, "transform": [{"filter": "datum.panel==='F'"}], "mark": {"type": "circle", "color": "#4c72b0", "opacity": 1, "size": 12},
     "encoding": {"x": {"field": "mean", "type": "quantitative", "title": "Means", "scale": {"domain": [-0.128, 0.234], "nice": false, "zero": false}, "axis": {"values": [-0.1, -0.05, 0, 0.05, 0.1, 0.15, 0.2], "labelExpr": "replace(format(datum.value, '.2f'), '−', '-')", "labelFontSize": 7, "tickSize": 4, "tickColor": "#888", "domainColor": "#999", "labelPadding": 2, "titleFontSize": 12.5, "titlePadding": 1, "labelOverlap": false, "minExtent": 0}},
      "y": {"field": "diff", "type": "quantitative", "title": null, "scale": {"domain": [-0.215, 0.458], "nice": false, "zero": false}, "axis": {"values": [-0.2, -0.1, 0, 0.1, 0.2, 0.3, 0.4], "labelExpr": "replace(format(datum.value, '.1f'), '−', '-')", "labelFontSize": 7, "tickSize": 4, "tickColor": "#888", "domainColor": "#999", "labelPadding": 2, "labelOverlap": false, "minExtent": 0}}}},
    {"data": {"name": "lines"}, "transform": [{"filter": "datum.panel==='F' && datum.kind==='upper'"}], "mark": {"type": "text", "align": "right", "fontSize": 7.5, "color": "#666", "dx": -9, "dy": -11},
     "encoding": {"x": {"datum": 0.234, "type": "quantitative", "title": "Means", "axis": {"values": [-0.1, -0.05, 0, 0.05, 0.1, 0.15, 0.2], "labelExpr": "replace(format(datum.value, '.2f'), '−', '-')", "labelFontSize": 7, "tickSize": 4, "tickColor": "#888", "domainColor": "#999", "labelPadding": 2, "titleFontSize": 12.5, "titlePadding": 1, "labelOverlap": false, "minExtent": 0}},
      "y": {"field": "diff", "type": "quantitative", "title": null, "axis": {"values": [-0.2, -0.1, 0, 0.1, 0.2, 0.3, 0.4], "labelExpr": "replace(format(datum.value, '.1f'), '−', '-')", "labelFontSize": 7, "tickSize": 4, "tickColor": "#888", "domainColor": "#999", "labelPadding": 2, "labelOverlap": false, "minExtent": 0}}, "text": {"field": "label"}}},
    {"data": {"name": "lines"}, "transform": [{"filter": "datum.panel==='F' && datum.kind==='lower'"}], "mark": {"type": "text", "align": "right", "fontSize": 7.5, "color": "#666", "dx": -9, "dy": 11},
     "encoding": {"x": {"datum": 0.234, "type": "quantitative", "title": "Means", "axis": {"values": [-0.1, -0.05, 0, 0.05, 0.1, 0.15, 0.2], "labelExpr": "replace(format(datum.value, '.2f'), '−', '-')", "labelFontSize": 7, "tickSize": 4, "tickColor": "#888", "domainColor": "#999", "labelPadding": 2, "titleFontSize": 12.5, "titlePadding": 1, "labelOverlap": false, "minExtent": 0}},
      "y": {"field": "diff", "type": "quantitative", "title": null, "axis": {"values": [-0.2, -0.1, 0, 0.1, 0.2, 0.3, 0.4], "labelExpr": "replace(format(datum.value, '.1f'), '−', '-')", "labelFontSize": 7, "tickSize": 4, "tickColor": "#888", "domainColor": "#999", "labelPadding": 2, "labelOverlap": false, "minExtent": 0}}, "text": {"field": "label"}}},
    {"data": {"name": "lines"}, "transform": [{"filter": "datum.panel==='F' && datum.kind==='mean'"}], "mark": {"type": "text", "align": "right", "fontSize": 7.5, "color": "#666", "dx": -2, "dy": -2, "lineBreak": "\n", "lineHeight": 9},
     "encoding": {"x": {"datum": 0.234, "type": "quantitative", "title": "Means", "axis": {"values": [-0.1, -0.05, 0, 0.05, 0.1, 0.15, 0.2], "labelExpr": "replace(format(datum.value, '.2f'), '−', '-')", "labelFontSize": 7, "tickSize": 4, "tickColor": "#888", "domainColor": "#999", "labelPadding": 2, "titleFontSize": 12.5, "titlePadding": 1, "labelOverlap": false, "minExtent": 0}},
      "y": {"field": "diff", "type": "quantitative", "title": null, "axis": {"values": [-0.2, -0.1, 0, 0.1, 0.2, 0.3, 0.4], "labelExpr": "replace(format(datum.value, '.1f'), '−', '-')", "labelFontSize": 7, "tickSize": 4, "tickColor": "#888", "domainColor": "#999", "labelPadding": 2, "labelOverlap": false, "minExtent": 0}}, "text": {"field": "label"}}},
    {"data": {"name": "heads"}, "transform": [{"filter": "datum.panel==='F'"}], "mark": {"type": "text", "align": "left", "baseline": "alphabetic", "fontSize": 15, "fontWeight": 900, "color": "#000"},
     "encoding": {"x": {"datum": -0.1398, "type": "quantitative", "title": "Means", "axis": {"values": [-0.1, -0.05, 0, 0.05, 0.1, 0.15, 0.2], "labelExpr": "replace(format(datum.value, '.2f'), '−', '-')", "labelFontSize": 7, "tickSize": 4, "tickColor": "#888", "domainColor": "#999", "labelPadding": 2, "titleFontSize": 12.5, "titlePadding": 1, "labelOverlap": false, "minExtent": 0}},
      "y": {"datum": 0.528, "type": "quantitative", "title": null, "axis": {"values": [-0.2, -0.1, 0, 0.1, 0.2, 0.3, 0.4], "labelExpr": "replace(format(datum.value, '.1f'), '−', '-')", "labelFontSize": 7, "tickSize": 4, "tickColor": "#888", "domainColor": "#999", "labelPadding": 2, "labelOverlap": false, "minExtent": 0}}, "text": {"field": "letter"}}},
    {"data": {"name": "heads"}, "transform": [{"filter": "datum.panel==='F'"}], "mark": {"type": "text", "align": "center", "baseline": "alphabetic", "fontSize": 11.5, "color": "#444"},
     "encoding": {"x": {"datum": 0.053, "type": "quantitative", "title": "Means", "axis": {"values": [-0.1, -0.05, 0, 0.05, 0.1, 0.15, 0.2], "labelExpr": "replace(format(datum.value, '.2f'), '−', '-')", "labelFontSize": 7, "tickSize": 4, "tickColor": "#888", "domainColor": "#999", "labelPadding": 2, "titleFontSize": 12.5, "titlePadding": 1, "labelOverlap": false, "minExtent": 0}},
      "y": {"datum": 0.4615, "type": "quantitative", "title": null, "axis": {"values": [-0.2, -0.1, 0, 0.1, 0.2, 0.3, 0.4], "labelExpr": "replace(format(datum.value, '.1f'), '−', '-')", "labelFontSize": 7, "tickSize": 4, "tickColor": "#888", "domainColor": "#999", "labelPadding": 2, "labelOverlap": false, "minExtent": 0}}, "text": {"field": "title"}}}
   ]
  }
 ]}
]
}
